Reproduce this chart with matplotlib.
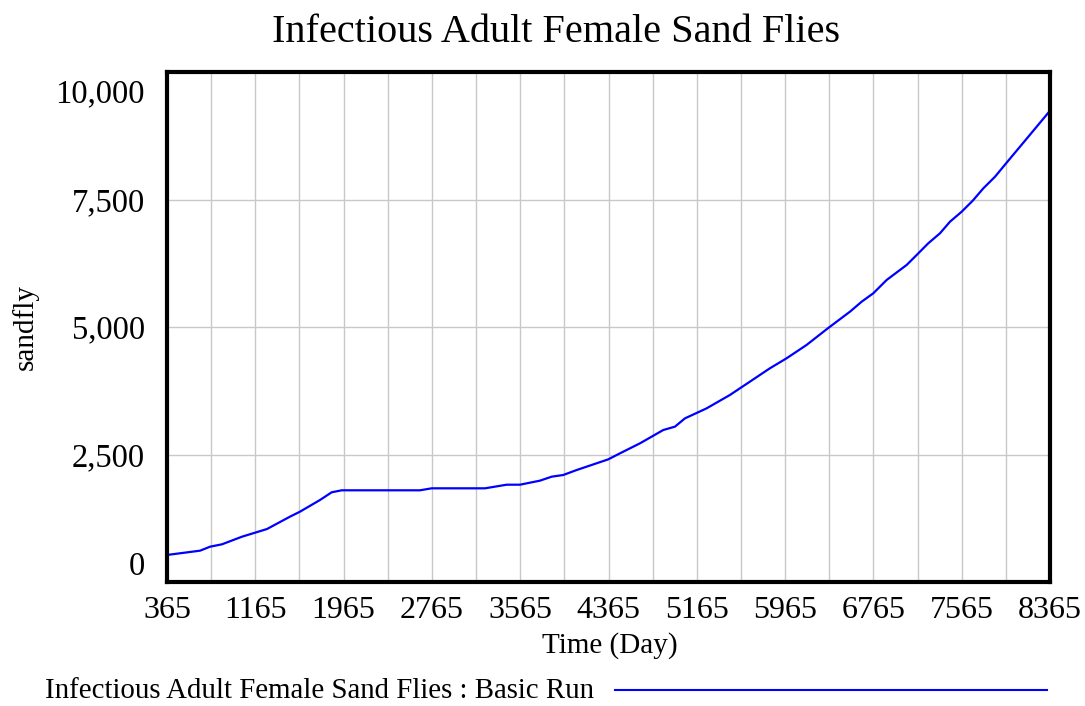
import matplotlib
matplotlib.use("Agg")
import matplotlib.pyplot as plt
from matplotlib.lines import Line2D
from matplotlib.ticker import FuncFormatter
from matplotlib.transforms import ScaledTranslation

plt.rcParams['font.family'] = ['Liberation Serif', 'DejaVu Serif']

# values
days = [365, 664, 755, 863, 1044, 1271, 1479, 1570, 1751, 1857, 1948, 2657, 2763,
        3246, 3443, 3563, 3744, 3850, 3955, 4077, 4363, 4469, 4650, 4756, 4861,
        4967, 5058, 5254, 5465, 5646, 5827, 5978, 6159, 6352, 6553, 6659, 6764,
        6885, 7066, 7157, 7262, 7368, 7459, 7565, 7665, 7761, 7867, 7972, 8169, 8365]
sandflies = [530, 614, 692, 739, 888, 1039, 1281, 1379, 1608, 1759, 1798, 1798, 1837,
             1837, 1908, 1908, 1987, 2065, 2098, 2196, 2405, 2523, 2719, 2850, 2980,
             3046, 3209, 3405, 3667, 3928, 4190, 4386, 4647, 4974, 5301, 5497, 5661,
             5922, 6216, 6412, 6641, 6837, 7065, 7261, 7477, 7719, 7947, 8222, 8732, 9241]

x_labels = [365, 1165, 1965, 2765, 3565, 4365, 5165, 5965, 6765, 7565, 8365]
y_labels = [0, 2500, 5000, 7500, 10000]

fig = plt.figure(figsize=(10.85, 7.06), dpi=100)
ax = fig.add_axes([167/1085, 1 - 582/706, 883/1085, 510/706])

ax.plot(days, sandflies, color='#0000ff', lw=1.6)

ax.set_xlim(365, 8365)
ax.set_ylim(0, 10000)
ax.set_xticks(x_labels)
ax.set_xticks(range(765, 8365, 800), minor=True)
ax.set_yticks(y_labels)
ax.yaxis.set_major_formatter(FuncFormatter(lambda v, p: f"{int(v):,}"))
ax.grid(True, which='both', color='#c8c8c8', lw=1)
ax.tick_params(which='both', length=0)
ax.tick_params(axis='x', labelsize=23, pad=10)
ax.tick_params(axis='y', labelsize=23.5, pad=16)
for s in ax.spines.values():
    s.set_linewidth(3)

ylabs = ax.get_yticklabels()
ylabs[0].set_va('bottom')
ylabs[-1].set_va('top')
ylabs[-1].set_transform(ylabs[-1].get_transform() +
                        ScaledTranslation(0, -5/72, fig.dpi_scale_trans))

fig.text(556/1085, 1 - 33/706, "Infectious Adult Female Sand Flies",
         ha='center', va='center', fontsize=29)
fig.text(610/1085, 1 - 646/706, "Time (Day)", ha='center', va='center', fontsize=21)
fig.text(25/1085, 1 - 327/706, "sandfly", ha='center', va='center',
         rotation=90, fontsize=21)

# legend
fig.text(45/1085, 1 - 691/706, "Infectious Adult Female Sand Flies : Basic Run",
         ha='left', va='center', fontsize=20.8)
fig.add_artist(Line2D([615/1085, 1047/1085], [1 - 690/706, 1 - 690/706],
                      color='#0000ff', lw=1.5, transform=fig.transFigure))

fig.savefig("out.png", dpi=100)
